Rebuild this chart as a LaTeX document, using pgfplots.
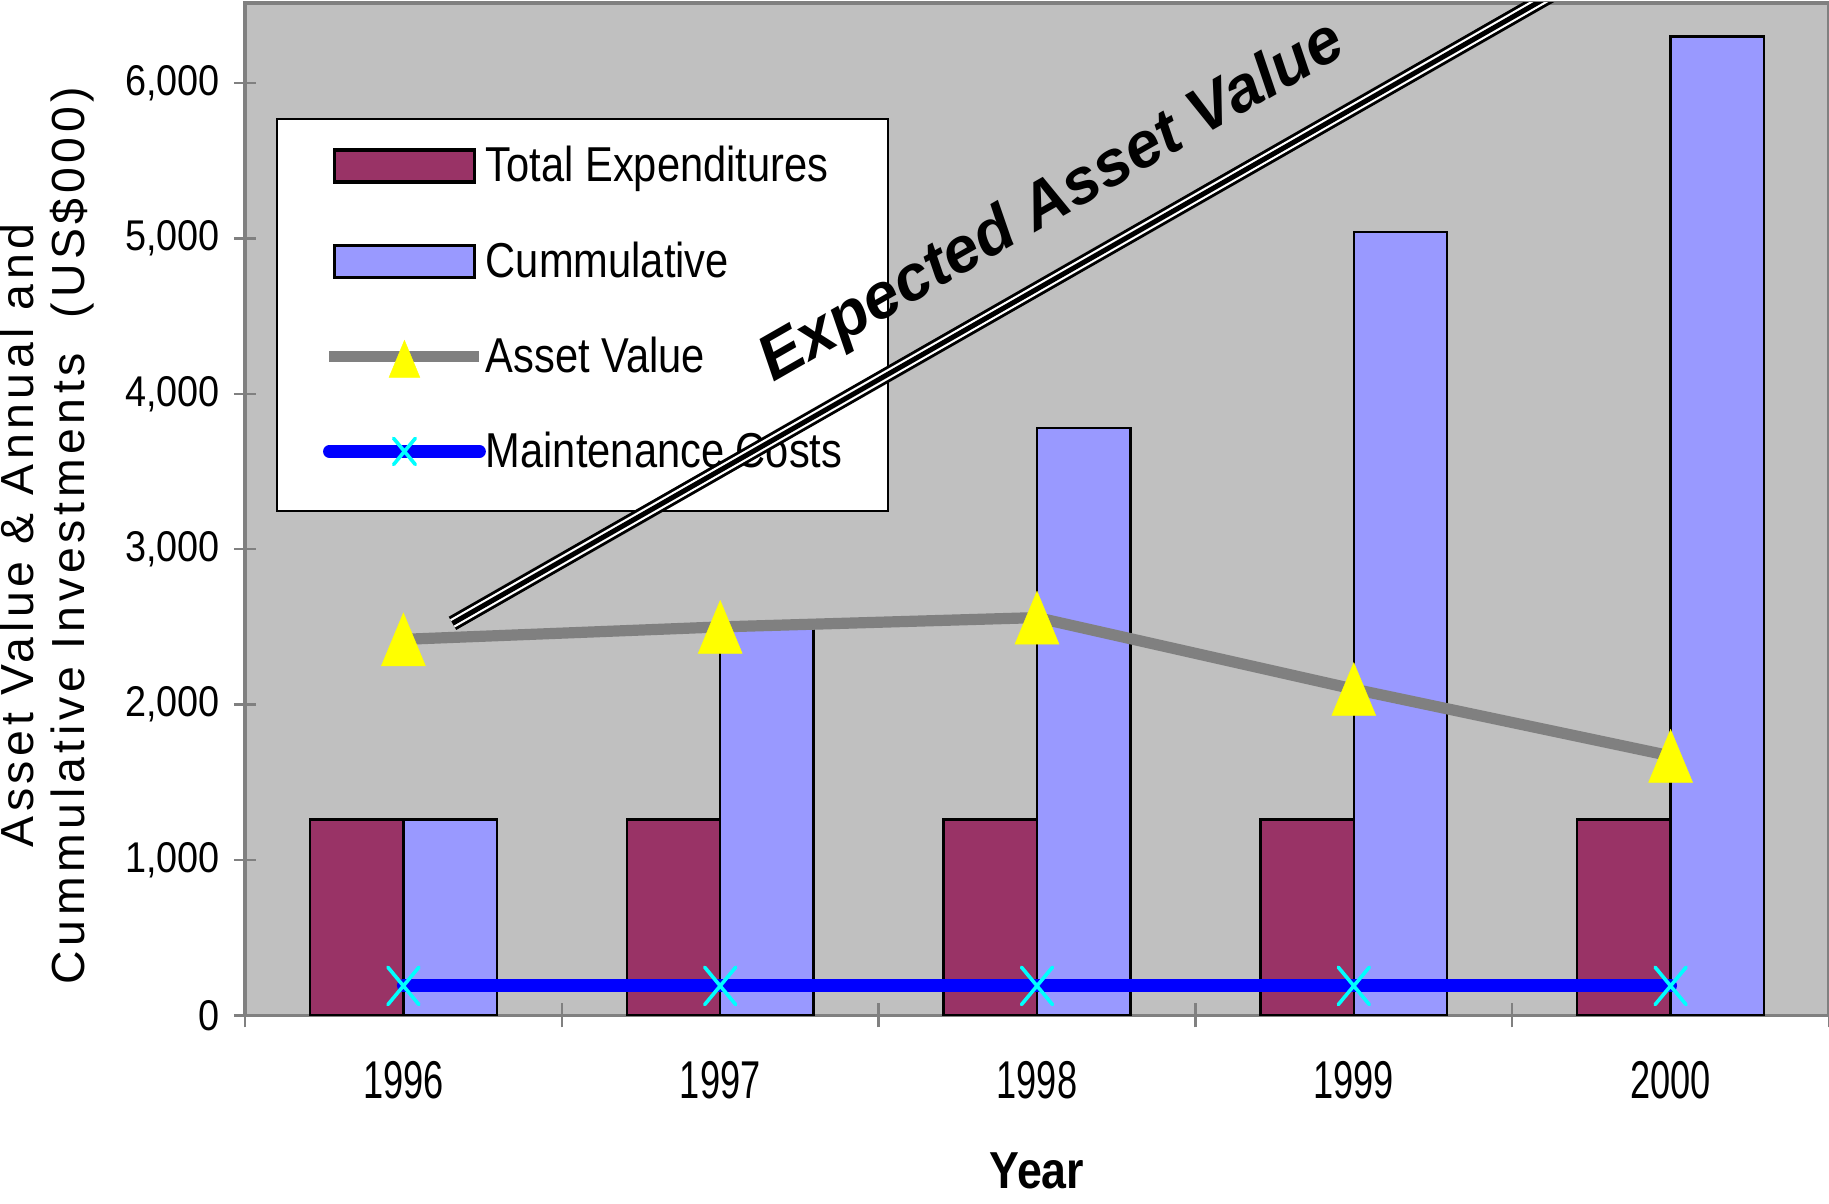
\documentclass[border=0pt]{standalone}
\usepackage{fontspec}
\setmainfont{Liberation Sans}
\newfontfamily\ytickfont[FakeStretch=0.88]{Liberation Sans}
\newfontfamily\xtickfont[FakeStretch=0.68]{Liberation Sans}
\newfontfamily\legfont[FakeStretch=0.85]{Liberation Sans}
\newfontfamily\yearfont[FakeStretch=0.86]{Liberation Sans}
\newfontfamily\ylabfont[LetterSpace=10]{Liberation Sans}
\usepackage{pgfplots}
\usepackage{pgfplotstable}
\pgfplotsset{compat=1.18}
\definecolor{bgc}{HTML}{C0C0C0}
\definecolor{maroonx}{HTML}{993366}
\definecolor{lav}{HTML}{9999FF}
\definecolor{axgray}{HTML}{808080}
\definecolor{yel}{HTML}{FFFF00}
\definecolor{cyanx}{HTML}{00FFFF}
\definecolor{bluex}{HTML}{0000FF}

\pgfplotsset{
  barleg/.style={legend image code/.code={\path[draw=none, fill=none] (0pt,-6.65pt) rectangle (37.5pt,6.65pt);\draw[##1, line width=0.9pt] (1.25pt,-2.45pt) rectangle (36.25pt,5.55pt);}},
  lineleg/.style={legend image code/.code={\path[draw=none, fill=none] (0pt,-6.65pt) rectangle (37.5pt,6.65pt);\draw[mark repeat=2, mark phase=2, ##1, every mark/.append style={scale=0.7}] plot coordinates {(0pt,1.65pt) (18.75pt,1.65pt) (37.5pt,1.65pt)};}},
}

\pgfplotstableread{
x te cum asset maint
0 1260 1260 2420 190
1 1260 2520 2500 190
2 1260 3780 2560 190
3 1260 5040 2100 190
4 1260 6300 1670 190
}\data

\pgfplotstableread{
x y
0.155 2523
3.8 6773
}\expline

\begin{document}
\begin{tikzpicture}
\begin{axis}[
  name=ax, scale only axis, width=396pt, height=253.1pt,
  xmin=-0.5, xmax=4.5, ymin=0, ymax=6515,
  axis background/.style={fill=bgc},
  axis line style={draw=axgray, line width=0.9pt},
  tick align=center, xtick pos=bottom, ytick pos=left,
  xtick={0,1,2,3,4}, xticklabels={1996,1997,1998,1999,2000},
  minor xtick={-0.5,0.5,1.5,2.5,3.5,4.5},
  major x tick style={draw=none},
  tick style={draw=axgray, line width=0.6pt},
  major tick length=5.5pt, minor tick length=6pt,
  ytick={0,1000,...,6000},
  /pgf/number format/.cd, 1000 sep={,}, assume math mode=true, /pgfplots/.cd,
  yticklabel style={font=\ytickfont\fontsize{10.75}{12}\selectfont, anchor=east},
  xticklabel style={font=\xtickfont\fontsize{13.3}{15}\selectfont, anchor=base, yshift=-18.1pt},
  xlabel={Year},
  xlabel style={font=\yearfont\bfseries\fontsize{13}{15}\selectfont, at={(axis description cs:0.5,0)}, anchor=base, yshift=-43.3pt},
  ylabel={Asset Value \& Annual and\\Cummulative Investments\ \ (US\$000)},
  ylabel style={font=\ylabfont\fontsize{11.6}{12.75}\selectfont, align=center, at={(axis description cs:-0.1253,0.474)}, anchor=center},
  legend style={at={(axis description cs:0.0196,0.886)}, anchor=north west, draw=black, line width=0.5pt, fill=white,
    inner xsep=11.5pt, inner ysep=6.6pt, row sep=10.5pt,
    font=\legfont\fontsize{12.25}{14}\selectfont,
    nodes={inner sep=0pt, text height=9pt, text depth=4.3pt},
    /tikz/every even column/.append style={column sep=1.75pt}},
  legend cell align=left,
]
\addplot[ybar, bar width=0.295, bar shift=0pt, fill=maroonx, draw=black, line width=0.6pt, barleg]
  table[x expr=\thisrow{x}-0.1475, y=te]{\data};
\addlegendentry{Total Expenditures}
\addplot[ybar, bar width=0.295, bar shift=0pt, fill=lav, draw=black, line width=0.6pt, barleg]
  table[x expr=\thisrow{x}+0.1475, y=cum]{\data};
\addlegendentry{Cummulative}
\addplot[draw=axgray, line width=2.8pt, mark=triangle*, mark size=8.83pt,
  mark options={fill=yel, draw=yel, line width=0.1pt, xscale=0.72, yshift=-2.2pt}, lineleg]
  table[x=x, y=asset]{\data};
\addlegendentry{Asset Value}
\addplot[draw=bluex, line width=3.2pt, line cap=round, mark=x, mark size=6.6pt,
  mark options={draw=cyanx, line width=0.9pt, xscale=0.83}, lineleg]
  table[x=x, y=maint]{\data};
\addlegendentry{Maintenance Costs}
\end{axis}
\begin{axis}[
  at={(ax.south west)}, anchor=south west,
  scale only axis, width=396pt, height=253.1pt,
  xmin=-0.5, xmax=4.5, ymin=0, ymax=6515, hide axis,
]
\addplot[black, line width=3.8pt, forget plot] table[x=x,y=y]{\expline};
\addplot[white, line width=2.35pt, forget plot] table[x=x,y=y]{\expline};
\addplot[black, line width=1.25pt, forget plot] table[x=x,y=y]{\expline};
\node[rotate=29.8, font=\bfseries\itshape\fontsize{16}{18}\selectfont] at (axis cs:2.05,5225) {Expected Asset Value};
\end{axis}
\pgfresetboundingbox
\path[use as bounding box] ([xshift=-61.25pt, yshift=-46.9pt]ax.south west) rectangle ([yshift=0.75pt]ax.north east);
\end{tikzpicture}
\end{document}
